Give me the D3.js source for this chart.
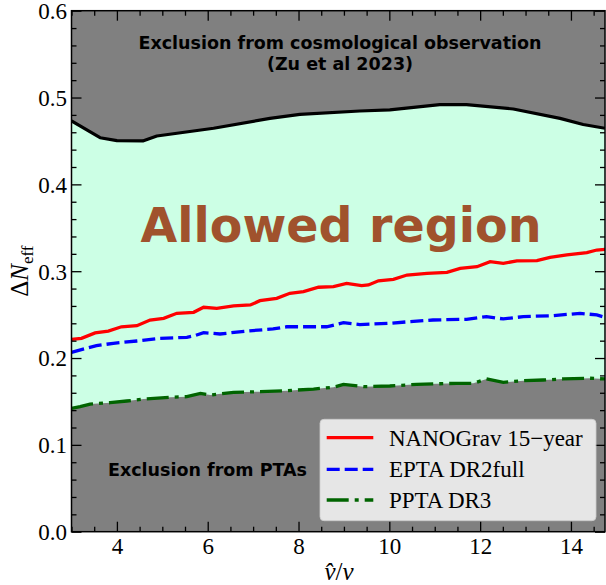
<!DOCTYPE html>
<html>
<head>
<meta charset="utf-8">
<script src="https://cdn.jsdelivr.net/npm/d3@7"></script>
<style>
  body { margin: 0; background: #fff; }
</style>
</head>
<body>
<div id="chart"></div>
<script>
/* global d3 */

// upper bound from cosmology (black line)
var boundX = [3, 3.63, 4, 4.57, 4.88, 6.13, 7.37, 8.03, 9.35, 10.01, 11.11, 11.7, 12.73, 13.76, 14.27, 14.75];
var boundY = [0.473, 0.4537, 0.4503, 0.450, 0.4557, 0.4646, 0.476, 0.4807, 0.4845, 0.4857, 0.4918, 0.4918, 0.4868, 0.476, 0.469, 0.4646];

// NANOGrav 15-year
var nanoX = [3, 3.22, 3.52, 3.81, 4.1, 4.44, 4.73, 5.03, 5.32, 5.69, 5.91, 6.2, 6.57, 6.94, 7.15, 7.52, 7.81, 8.11, 8.44, 8.77,
  9.06, 9.39, 9.54, 9.76, 10.09, 10.39, 10.83, 11.27, 11.56, 11.93, 12.22, 12.51, 12.81, 13.25, 13.54, 13.91, 14.35, 14.57, 14.75];
var nanoY = [0.2216, 0.2227, 0.229, 0.2311, 0.236, 0.2372, 0.2438, 0.2458, 0.2515, 0.2527, 0.2585, 0.2573, 0.26, 0.2611, 0.266,
  0.2688, 0.2746, 0.2764, 0.2815, 0.2822, 0.286, 0.2833, 0.2841, 0.289, 0.2907, 0.2956, 0.2976, 0.2987, 0.3033, 0.3052, 0.311,
  0.3091, 0.3118, 0.3121, 0.316, 0.3187, 0.3213, 0.3244, 0.3252];

// EPTA DR2full
var eptaX = [3, 3.33, 3.55, 3.92, 4.44, 4.95, 5.54, 5.69, 5.91, 6.27, 6.86, 7.44, 7.74, 8.62, 8.99, 9.35, 10.01, 10.45, 10.96,
  11.7, 12.14, 12.51, 12.95, 13.61, 14.2, 14.57, 14.75];
var eptaY = [0.2066, 0.2112, 0.2142, 0.217, 0.2196, 0.2227, 0.2239, 0.2254, 0.2292, 0.2277, 0.2311, 0.2335, 0.236, 0.236,
  0.2407, 0.2385, 0.240, 0.2419, 0.2438, 0.2446, 0.2477, 0.245, 0.2477, 0.2488, 0.2515, 0.2496, 0.2469];

// PPTA DR3
var pptaX = [3, 3.19, 3.41, 3.85, 4.22, 4.59, 5.17, 5.54, 5.84, 6.06, 6.57, 7.16, 7.74, 8.33, 8.77, 8.99, 9.43, 10.01, 10.6,
  11.48, 11.85, 12.14, 12.51, 12.95, 13.39, 13.83, 14.42, 14.75];
var pptaY = [0.1421, 0.144, 0.147, 0.1486, 0.1505, 0.1528, 0.1548, 0.1555, 0.1593, 0.1574, 0.1605, 0.1612, 0.1624, 0.1643,
  0.1663, 0.1697, 0.167, 0.1678, 0.1697, 0.1709, 0.1709, 0.1759, 0.172, 0.1739, 0.1747, 0.1759, 0.1767, 0.1759];

var legendLabels = ['NANOGrav 15\u2212year', 'EPTA DR2full', 'PPTA DR3'];
var xMajor = [4, 6, 8, 10, 12, 14];
var yMajor = [0.0, 0.1, 0.2, 0.3, 0.4, 0.5, 0.6];

var WIDTH = 606, HEIGHT = 585;
var L = 71.5, R = 605, T = 10.7, B = 531.7;

var x = d3.scaleLinear().domain([3, 14.75]).range([L, R]);
var y = d3.scaleLinear().domain([0, 0.6]).range([B, T]);

var svg = d3.select('#chart').append('svg')
  .attr('width', WIDTH)
  .attr('height', HEIGHT)
  .style('display', 'block');

svg.append('clipPath').attr('id', 'clip')
  .append('rect').attr('x', L).attr('y', T).attr('width', R - L).attr('height', B - T);

var plot = svg.append('g').attr('clip-path', 'url(#clip)');

function pts(xs, ys) {
  return xs.map(function(d, i) { return [d, ys[i]]; });
}

var line = d3.line()
  .x(function(d) { return x(d[0]); })
  .y(function(d) { return y(d[1]); });

// grey background = excluded everywhere
plot.append('rect')
  .attr('x', L).attr('y', T).attr('width', R - L).attr('height', B - T)
  .attr('fill', '#808080');

// allowed band between cosmology bound and PPTA
var band = pts(boundX, boundY).concat(pts(pptaX, pptaY).reverse());
plot.append('path')
  .attr('d', line(band) + 'Z')
  .attr('fill', '#ccffe5');

plot.append('path')
  .attr('d', line(pts(boundX, boundY)))
  .attr('fill', 'none').attr('stroke', '#000').attr('stroke-width', 3.2)
  .attr('stroke-linejoin', 'round');

var series = [
  { xs: nanoX, ys: nanoY, color: '#ff0000', dash: null },
  { xs: eptaX, ys: eptaY, color: '#0000ff', dash: '13,5' },
  { xs: pptaX, ys: pptaY, color: '#006400', dash: '22,6,4,6' }
];

series.forEach(function(s) {
  plot.append('path')
    .attr('d', line(pts(s.xs, s.ys)))
    .attr('fill', 'none')
    .attr('stroke', s.color)
    .attr('stroke-width', 3.3)
    .attr('stroke-dasharray', s.dash);
});

// texts inside the plot
var sans = 'DejaVu Sans';
var title = svg.append('text')
  .attr('x', 340).attr('y', 49)
  .attr('text-anchor', 'middle')
  .attr('font-family', sans).attr('font-weight', 'bold').attr('font-size', '17.5px');
title.append('tspan').attr('x', 340).text('Exclusion from cosmological observation');
title.append('tspan').attr('x', 340).attr('y', 70).text('(Zu et al 2023)');

svg.append('text')
  .attr('x', 341).attr('y', 241.7)
  .attr('text-anchor', 'middle')
  .attr('font-family', sans).attr('font-weight', 'bold').attr('font-size', '47.5px')
  .attr('fill', '#a0522d')
  .text('Allowed region');

svg.append('text')
  .attr('x', 207.5).attr('y', 476)
  .attr('text-anchor', 'middle')
  .attr('font-family', sans).attr('font-weight', 'bold').attr('font-size', '17.5px')
  .text('Exclusion from PTAs');

// axes, ticks pointing inwards on all sides
var serif = 'Liberation Serif';
var xMinor = d3.range(3, 14.76, 0.5).filter(function(v) { return xMajor.indexOf(v) < 0; });
var yMinor = d3.range(0, 0.601, 0.02).filter(function(v) {
  return yMajor.every(function(m) { return Math.abs(m - v) > 1e-6; });
});

function drawAxis(axis, tx, ty) {
  var g = svg.append('g').attr('transform', 'translate(' + tx + ',' + ty + ')').call(axis);
  g.select('.domain').remove();
  g.selectAll('line').attr('stroke', '#000').attr('stroke-width', 1.3);
  return g;
}

var gb = drawAxis(d3.axisBottom(x).tickValues(xMajor).tickSize(-10).tickFormat(d3.format('d')), 0, B);
gb.selectAll('text').attr('y', 22).attr('dy', null)
  .attr('font-family', serif).attr('font-size', '23px').attr('fill', '#000');
drawAxis(d3.axisBottom(x).tickValues(xMinor).tickSize(-5).tickFormat(''), 0, B);
drawAxis(d3.axisTop(x).tickValues(xMajor).tickSize(-10).tickFormat(''), 0, T);
drawAxis(d3.axisTop(x).tickValues(xMinor).tickSize(-5).tickFormat(''), 0, T);

var gl = drawAxis(d3.axisLeft(y).tickValues(yMajor).tickSize(-10).tickFormat(d3.format('.1f')), L, 0);
gl.selectAll('text').attr('x', -4.5).attr('dy', null).attr('y', 7.8)
  .attr('font-family', serif).attr('font-size', '23px').attr('fill', '#000');
drawAxis(d3.axisLeft(y).tickValues(yMinor).tickSize(-5).tickFormat(''), L, 0);
drawAxis(d3.axisRight(y).tickValues(yMajor).tickSize(-10).tickFormat(''), R, 0);
drawAxis(d3.axisRight(y).tickValues(yMinor).tickSize(-5).tickFormat(''), R, 0);

svg.append('rect')
  .attr('x', L).attr('y', T).attr('width', R - L).attr('height', B - T)
  .attr('fill', 'none').attr('stroke', '#000').attr('stroke-width', 1.5);

// axis labels
var yl = svg.append('text')
  .attr('transform', 'translate(28,' + ((T + B) / 2) + ') rotate(-90)')
  .attr('text-anchor', 'middle')
  .attr('font-family', serif).attr('font-size', '25px');
yl.append('tspan').text('\u0394');
yl.append('tspan').attr('font-style', 'italic').text('N');
yl.append('tspan').attr('font-size', '17px').attr('dy', 5).text('eff');

var xl = svg.append('text')
  .attr('x', 339).attr('y', 580)
  .attr('text-anchor', 'middle')
  .attr('font-family', serif).attr('font-size', '25px').attr('font-style', 'italic');
xl.append('tspan').text('v\u0302');
xl.append('tspan').attr('font-style', 'normal').text('/');
xl.append('tspan').text('v');

// legend
var lg = svg.append('g');
lg.append('rect')
  .attr('x', 320).attr('y', 419.3).attr('width', 276).attr('height', 101.4).attr('rx', 4)
  .attr('fill', '#fff').attr('fill-opacity', 0.8)
  .attr('stroke', '#cccccc').attr('stroke-opacity', 0.8);

var rowY = [437.7, 469.3, 500];
series.forEach(function(s, i) {
  lg.append('line')
    .attr('x1', 326.7).attr('x2', 373.3)
    .attr('y1', rowY[i]).attr('y2', rowY[i])
    .attr('stroke', s.color).attr('stroke-width', 3.3)
    .attr('stroke-dasharray', s.dash);
  lg.append('text')
    .attr('x', 389).attr('y', rowY[i] + 7.8)
    .attr('font-family', serif).attr('font-size', '23px')
    .text(legendLabels[i]);
});
</script>
</body>
</html>
